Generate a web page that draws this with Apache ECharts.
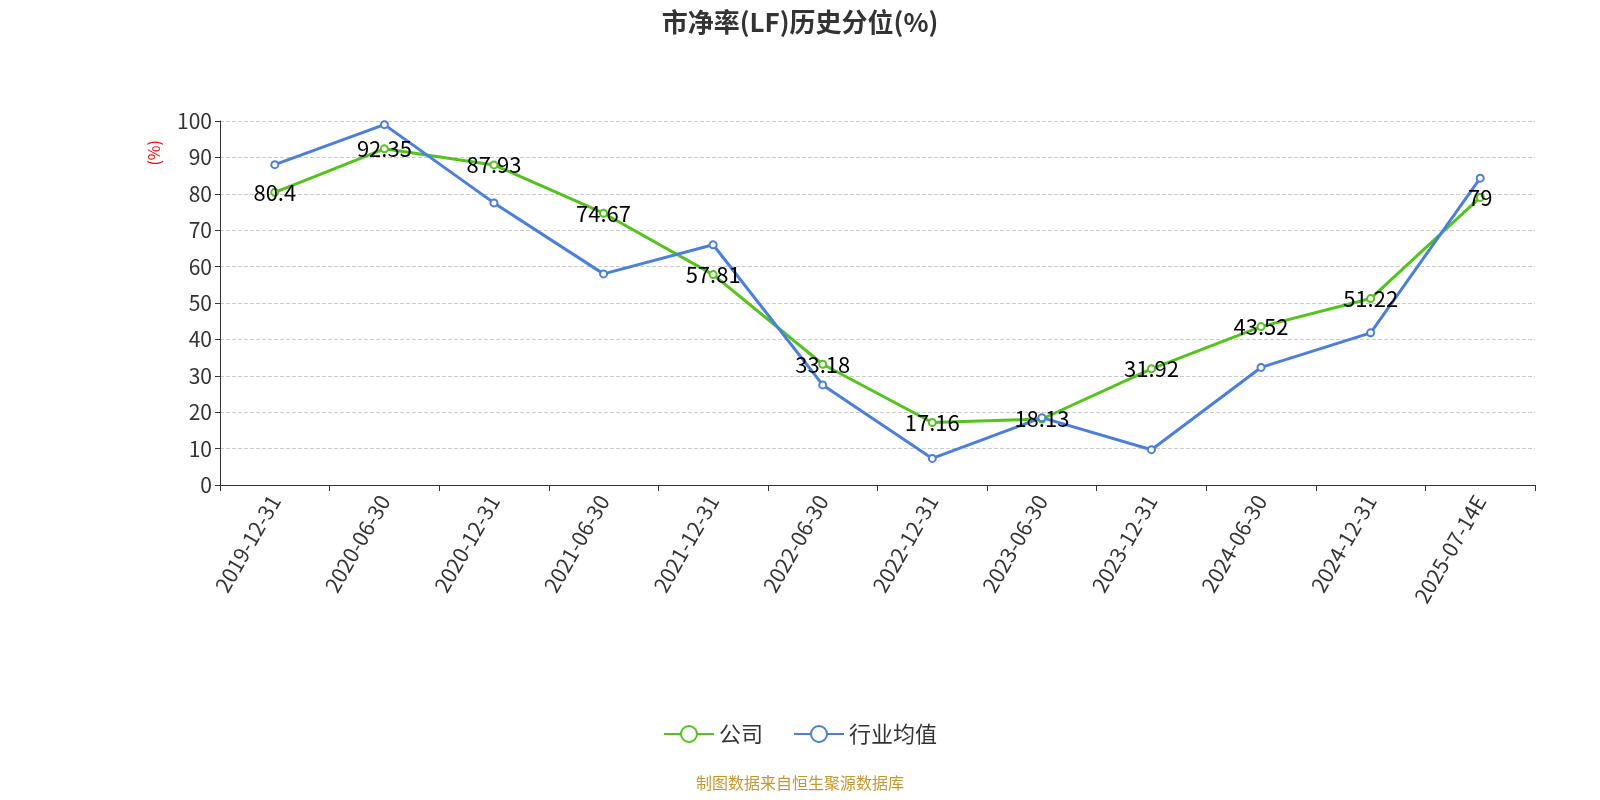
<!DOCTYPE html>
<html lang="zh">
<head>
  <meta charset="UTF-8">
  <title>市净率(LF)历史分位(%)</title>
  <script src="https://cdn.jsdelivr.net/npm/echarts@6/dist/echarts.min.js"></script>
  <style>
    body { margin: 0; }
    #main { width: 1600px; height: 800px; }
  </style>
</head>
<body>
  <div id="main"></div>
  <script type="text/javascript">
    var dates = ['2019-12-31', '2020-06-30', '2020-12-31', '2021-06-30', '2021-12-31', '2022-06-30',
                 '2022-12-31', '2023-06-30', '2023-12-31', '2024-06-30', '2024-12-31', '2025-07-14E'];
    var company = [80.4, 92.35, 87.93, 74.67, 57.81, 33.18, 17.16, 18.13, 31.92, 43.52, 51.22, 79];
    var industry = [88, 99, 77.5, 58, 66, 27.5, 7.3, 18.5, 9.7, 32.3, 41.8, 84.3];

    var font = 'Noto Sans CJK SC';
    var myChart = echarts.init(document.getElementById('main'));

    var option = {
      textStyle: { fontFamily: font },
      title: {
        text: '市净率(LF)历史分位(%)',
        left: 'center', top: 4,
        textStyle: { fontSize: 26, fontWeight: 'bold', color: '#333', fontFamily: font }
      },
      graphic: [{
        type: 'text', left: 'center', top: 775,
        style: { text: '制图数据来自恒生聚源数据库', fill: '#c8962e', fontSize: 16, fontFamily: font }
      }, {
        type: 'text', left: 146, top: 140, rotation: Math.PI / 2,
        style: { text: '(%)', fill: 'red', fontSize: 16, fontFamily: font }
      }],
      legend: {
        bottom: 50, itemWidth: 50, itemHeight: 20, itemGap: 30,
        textStyle: { fontSize: 22, color: '#333' },
        data: ['公司', '行业均值']
      },
      grid: { left: 220, right: 65, top: 121, bottom: 315 },
      xAxis: {
        type: 'category', data: dates, boundaryGap: true,
        axisLine: { lineStyle: { color: '#333' } },
        axisTick: { show: true, length: 6 },
        axisLabel: { rotate: 60, fontSize: 21, color: '#333', margin: 12 }
      },
      yAxis: {
        type: 'value', min: 0, max: 100, interval: 10,
        axisLine: { show: true, lineStyle: { color: '#333' } },
        axisTick: { show: true },
        axisLabel: { fontSize: 21, color: '#333' },
        splitLine: { lineStyle: { type: 'dashed', color: '#ccc' } }
      },
      series: [{
        name: '公司', type: 'line', data: company,
        symbol: 'emptyCircle', symbolSize: 7,
        itemStyle: { color: '#52c41a' }, lineStyle: { width: 3 },
        label: { show: true, position: 'inside', fontSize: 22, color: '#000' }
      }, {
        name: '行业均值', type: 'line', data: industry,
        symbol: 'emptyCircle', symbolSize: 7,
        itemStyle: { color: '#4a7fe0' }, lineStyle: { width: 3 }
      }]
    };
    myChart.setOption(option);
  </script>
</body>
</html>
